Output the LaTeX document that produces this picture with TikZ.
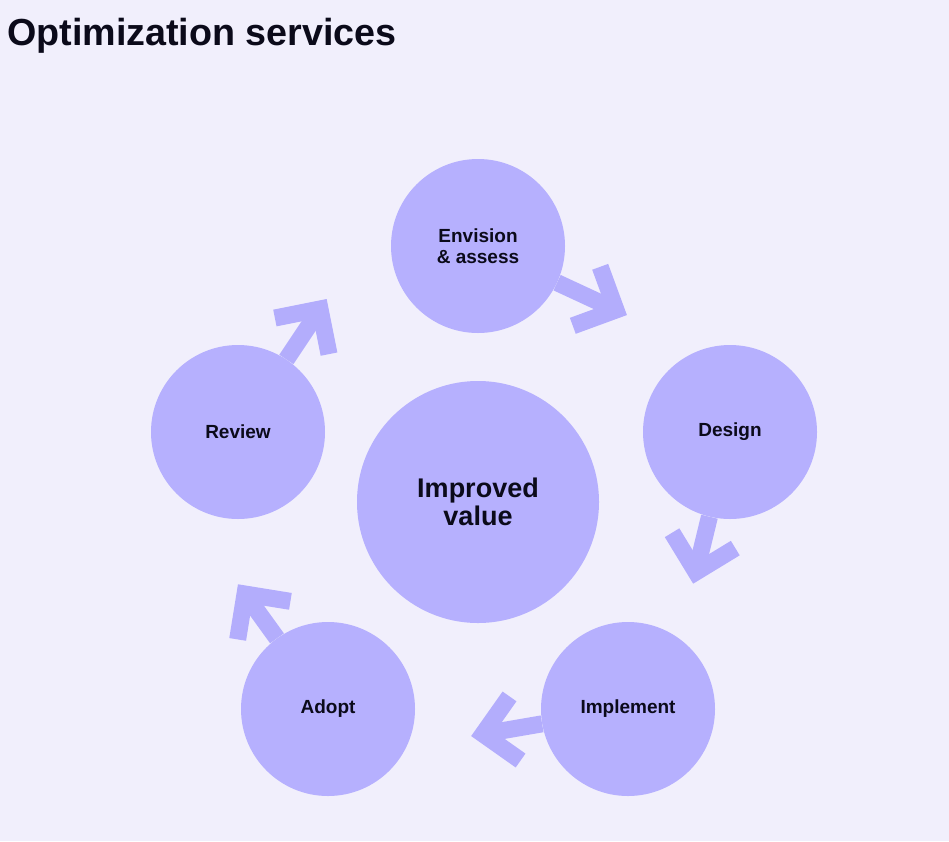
\documentclass[tikz,border=0pt]{standalone}
\usepackage{fontspec}
\setmainfont{Liberation Sans}
\usetikzlibrary{calc}
\definecolor{bgc}{HTML}{F1EFFC}
\definecolor{circc}{HTML}{B6B0FE}
\definecolor{arrc}{HTML}{B3ADFC}
\definecolor{txtc}{HTML}{0B0A1A}
\begin{document}
\begin{tikzpicture}[x=1pt,y=-1pt,
  stage/.style={circle,fill=circc,minimum size=174pt,inner sep=0pt,align=center,
    font=\fontsize{19}{21}\selectfont\bfseries,text=txtc},
  hub/.style={circle,fill=circc,minimum size=242pt,inner sep=0pt,align=center,
    font=\fontsize{27}{28}\selectfont\bfseries,text=txtc},
  flow/.style={draw=arrc,line width=17pt,line join=miter,line cap=butt}]
\fill[bgc] (0,0) rectangle (949,841);
\useasboundingbox (0,0) rectangle (949,841);
\node[anchor=base west,inner sep=0pt,text=txtc,font=\fontsize{37.7}{44}\selectfont\bfseries] (title) at (7,45) {Optimization services};
\node[hub] (hub) at (478,502) {Improved\\value};
\node[stage] (env) at (478,246) {Envision\\\& assess};
\node[stage] (des) at (730,432) {\raisebox{-2pt}{Design}};
\node[stage] (imp) at (628,709) {Implement};
\node[stage] (ado) at (328,709) {Adopt};
\node[stage] (rev) at (238,432) {Review};
\coordinate (t1) at (616,310);
\coordinate (t2) at (696,572);
\coordinate (t3) at (483,734);
\coordinate (t4) at (245,594);
\coordinate (t5) at (320,309);
\foreach \s/\t in {env/t1,des/t2,imp/t3,ado/t4,rev/t5}{
  \draw[flow] (\s) -- (\t);
  \draw[flow] ($(\t)!46pt!45:(\s)$) -- (\t) -- ($(\t)!46pt!-45:(\s)$);
}
\end{tikzpicture}
\end{document}
